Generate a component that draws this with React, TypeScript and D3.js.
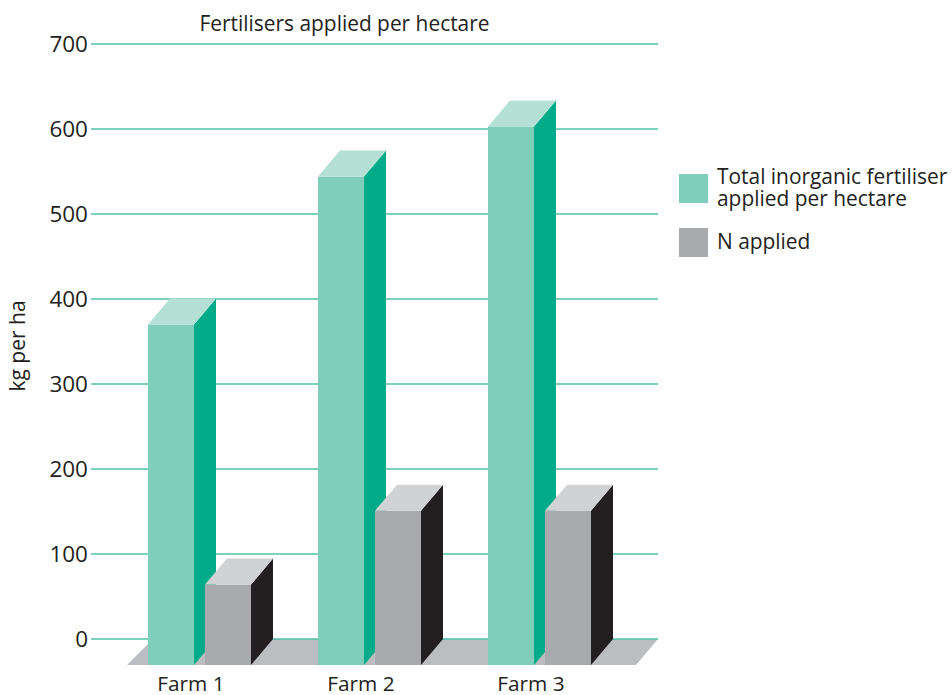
import React from "react";
import * as d3 from "d3";

const farms = ["Farm 1", "Farm 2", "Farm 3"];
const totalFertiliser = [370, 544, 603];
const nApplied = [64, 151, 151];
const yTicks = [0, 100, 200, 300, 400, 500, 600, 700];
const font = "'Open Sans', sans-serif";

export default function App() {
  const y = d3.scaleLinear().domain([0, 700]).range([639, 44]);
  const x = d3.scalePoint<string>().domain(farms).range([148, 488]);
  const dx = 22, dy = 26, w = 46, gap = 57, base = 665;
  const bar = (bx: number, v: number, front: string, side: string, top: string, k: string) => {
    const ty = y(v);
    return (
      <g key={k}>
        <rect x={bx} y={ty} width={w} height={base - ty} fill={front} />
        <path d={d3.line()([[bx + w, ty], [bx + w + dx, ty - dy], [bx + w + dx, base - dy], [bx + w, base]])! + "Z"} fill={side} />
        <path d={d3.line()([[bx, ty], [bx + dx, ty - dy], [bx + w + dx, ty - dy], [bx + w, ty]])! + "Z"} fill={top} />
      </g>
    );
  };
  return (
    <svg width={952} height={695} style={{ position: "absolute", left: 0, top: 0 }} fontFamily={font} fill="#231f20">
      <rect width={952} height={695} fill="#fff" />
      <text x={344.5} y={31} fontSize={20.9} textAnchor="middle">Fertilisers applied per hectare</text>
      <path d="M153,639H658L636,665H127Z" fill="#bcbdc0" />
      {yTicks.map((t) => (
        <g key={t}>
          <line x1={91} x2={658} y1={y(t)} y2={y(t)} stroke="#4fc0a8" strokeWidth={1.4} />
          <text x={88} y={y(t) + 8} fontSize={22.5} textAnchor="end">{t}</text>
        </g>
      ))}
      <text transform="translate(25,346) rotate(-90)" fontSize={21} textAnchor="middle">kg per ha</text>
      {farms.map((f, i) => (
        <g key={f}>
          {bar(x(f)!, totalFertiliser[i], "#7fcdbb", "#00ab8a", "#b5e0d5", f + "t")}
          {bar(x(f)! + gap, nApplied[i], "#a9aaad", "#231f20", "#d1d2d4", f + "n")}
          <text x={x(f)! + 43} y={691} fontSize={20.8} textAnchor="middle">{f}</text>
        </g>
      ))}
      <rect x={679} y={174} width={29} height={29} fill="#7fcdbb" />
      <text x={717} y={184} fontSize={20.9}>Total inorganic fertiliser</text>
      <text x={717} y={206} fontSize={20.9}>applied per hectare</text>
      <rect x={679} y={228} width={29} height={29} fill="#a9aaad" />
      <text x={717} y={249} fontSize={20.9}>N applied</text>
    </svg>
  );
}
